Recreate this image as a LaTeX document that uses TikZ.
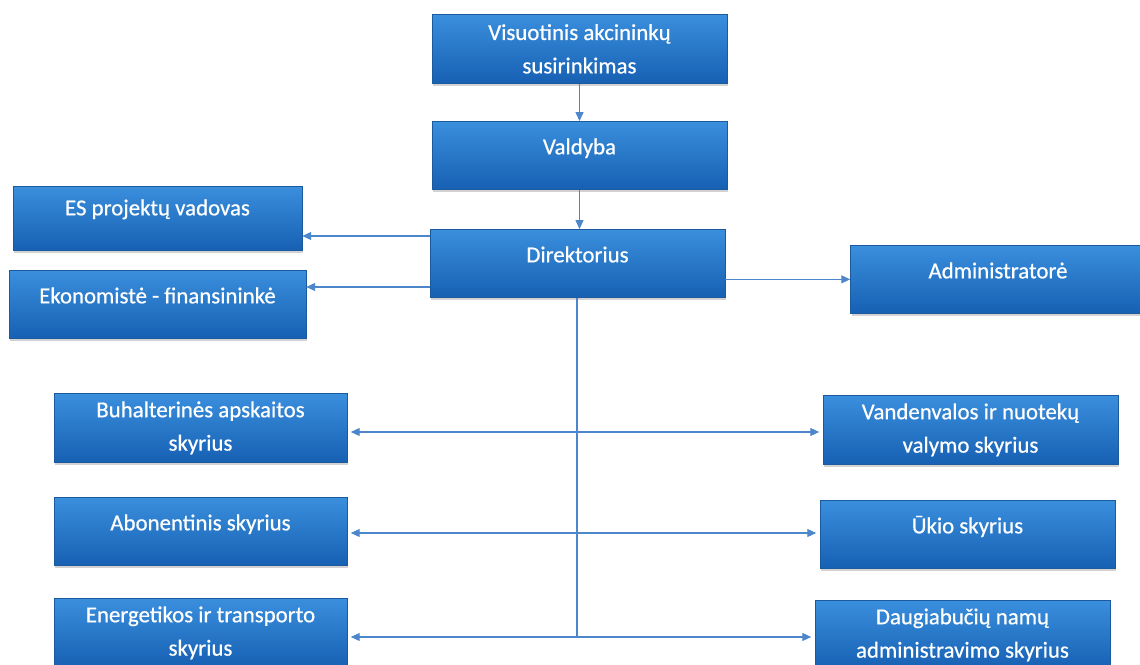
\documentclass[tikz,border=0pt]{standalone}
\usepackage{fontspec}
\setmainfont{Carlito}
\newfontfamily\boxfont{Carlito}[FakeBold=0.6]
\usetikzlibrary{arrows.meta,shadows}
\definecolor{boxtop}{HTML}{3A8FDD}
\definecolor{boxmid}{HTML}{1F70C8}
\definecolor{boxbot}{HTML}{1760B3}
\definecolor{boxline}{HTML}{1B5A9F}
\definecolor{linkblue}{HTML}{4C87CB}
\tikzset{
  orgbox/.style={draw=boxline, line width=0.4pt, top color=boxtop, middle color=boxmid, bottom color=boxbot,
    text=white, font=\boxfont\fontsize{13}{19}\selectfont, anchor=north, inner xsep=3pt,
    drop shadow={shadow xshift=0.6pt, shadow yshift=-1.4pt, opacity=0.35}},
  oneline/.style={orgbox, text height=0.66cm, text depth=0.70cm, inner ysep=0pt},
  twoline/.style={orgbox, align=center, minimum height=1.38cm, inner ysep=0pt},
  link/.style={draw=linkblue, line width=0.6pt, -{Triangle[length=5pt,width=4.5pt]}},
  bilink/.style={link, {Triangle[length=5pt,width=4.5pt]}-{Triangle[length=5pt,width=4.5pt]}, shorten <=2pt, shorten >=2pt},
}
\begin{document}
\begin{tikzpicture}[x=0.02cm,y=-0.02cm]
  \clip (0,0) rectangle (1140,665);
  \fill[white] (0,0) rectangle (1140,665);
  % top of the chart
  \node[twoline, minimum width=5.9cm] (vis) at (579.5,14) {Visuotinis akcininkų\\susirinkimas};
  \node[oneline, minimum width=5.9cm] (val) at (579.5,121) {Valdyba};
  \node[oneline, minimum width=5.9cm] (dir) at (577.5,229) {Direktorius};
  % staff
  \node[orgbox, minimum width=5.78cm, text height=0.58cm, text depth=0.70cm, inner ysep=0pt] (es) at (157.5,186) {ES projektų vadovas};
  \node[oneline, minimum width=5.94cm] (eko) at (157.5,270) {Ekonomistė - finansininkė};
  \node[oneline, minimum width=5.9cm] (adm) at (998,245) {Administratorė};
  % departments
  \node[twoline, minimum width=5.86cm] (buh) at (200.5,393) {Buhalterinės apskaitos\\skyrius};
  \node[twoline, minimum width=5.9cm] (van) at (970.5,395) {Vandenvalos ir nuotekų\\valymo skyrius};
  \node[oneline, minimum width=5.86cm] (abo) at (200.5,497) {Abonentinis skyrius};
  \node[oneline, minimum width=5.9cm] (uki) at (967.5,500) {Ūkio skyrius};
  \node[twoline, minimum width=5.86cm] (ene) at (200.5,598) {Energetikos ir transporto\\skyrius};
  \node[twoline, minimum width=5.9cm] (dau) at (962.5,600) {Daugiabučių namų\\administravimo skyrius};
  \coordinate (p1) at (430,236);
  \coordinate (p2) at (430,287);
  \coordinate (r1) at (577,432);
  \coordinate (r2) at (577,533);
  \coordinate (r3) at (577,637);
  \begin{scope}[link]
    \draw (vis) to (val);
    \draw (val) to (val.south |- dir.north);
    \draw (p1) to (es.east |- p1);
    \draw (p2) to (eko.east |- p2);
    \draw (dir.east |- adm.west) to (adm.west);
    \draw[-] (dir.south -| r3) to (r3);
  \end{scope}
  \begin{scope}[bilink]
    \draw (buh.east |- r1) to (van.west |- r1);
    \draw (abo.east |- r2) to (uki.west |- r2);
    \draw (ene.east |- r3) to (dau.west |- r3);
  \end{scope}
\end{tikzpicture}
\end{document}
